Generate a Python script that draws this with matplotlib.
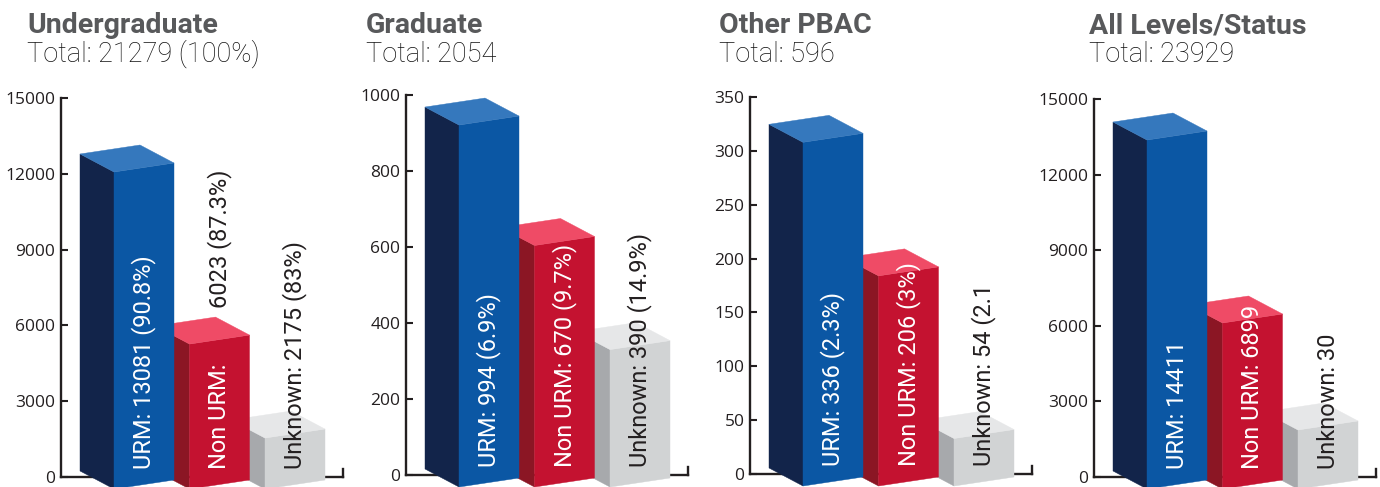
import matplotlib
matplotlib.use("Agg")
import matplotlib.pyplot as plt
from matplotlib.patches import Polygon

# ---------------- data ----------------
titles = ["Undergraduate", "Graduate", "Other PBAC", "All Levels/Status"]
subtitles = ["Total: 21279 (100%)", "Total: 2054", "Total: 596", "Total: 23929"]
categories = ["URM", "Non URM", "Unknown"]

# bar heights as drawn in the picture (top back corner of each block)
ug_heights = [13140, 6330, 2610]
grad_heights = [992, 675, 401]
pbac_heights = [333, 209, 58]
all_heights = [14444, 7183, 2937]

# label texts
ug_labels = ["URM: 13081 (90.8%)", "Non URM:", "Unknown: 2175 (83%)"]
ug_extra = [None, "6023 (87.3%)", None]
grad_labels = ["URM: 994 (6.9%)", "Non URM: 670 (9.7%)", "Unknown: 390 (14.9%)"]
pbac_labels = ["URM: 336 (2.3%)", "Non URM: 206 (3%)", "Unknown: 54 (2.1"]
all_labels = ["URM: 14411", "Non URM: 6899", "Unknown: 30"]
no_extra = [None, None, None]

ug_ticks = [0, 3000, 6000, 9000, 12000, 15000]
grad_ticks = [0, 200, 400, 600, 800, 1000]
pbac_ticks = [0, 50, 100, 150, 200, 250, 300, 350]
all_ticks = [0, 3000, 6000, 9000, 12000, 15000]

# ---------------- style ----------------
W, H = 1380, 487
spine_x = [61, 406, 750, 1094]
zero_px = [477, 475, 474, 477]
top_px = [98, 95, 97, 99]
title_x = [27, 366, 719, 1089]

face_colors = [
    ("#12244a", "#0b57a4", "#3578bd"),   # side, front, top
    ("#8b1624", "#c41230", "#ef4b66"),
    ("#a7a9ac", "#d1d3d4", "#e6e7e8"),
]
label_colors = ["white", "white", "#231f20"]
ink = "#231f20"

fig = plt.figure(figsize=(W / 100, H / 100), dpi=100)

heights_all = [ug_heights, grad_heights, pbac_heights, all_heights]
labels_all = [ug_labels, grad_labels, pbac_labels, all_labels]
extra_all = [ug_extra, no_extra, no_extra, no_extra]
ticks_all = [ug_ticks, grad_ticks, pbac_ticks, all_ticks]

AX_W = 300  # axes width in pixels

for p in range(4):
    ticks = ticks_all[p]
    ymax = ticks[-1]
    z, t = zero_px[p], top_px[p]
    ppu = (z - t) / ymax
    ymin = -(H - z) / ppu

    ax = fig.add_axes([spine_x[p] / W, 0, AX_W / W, (H - t) / H])
    ax.set_xlim(0, AX_W)
    ax.set_ylim(ymin, ymax)
    ax.patch.set_visible(False)

    def dy(px):
        return px / ppu

    for s in ["top", "right"]:
        ax.spines[s].set_visible(False)
    for s in ["left", "bottom"]:
        ax.spines[s].set_linewidth(1.7)
        ax.spines[s].set_color(ink)
        ax.spines[s].set_capstyle("projecting")
    ax.spines["left"].set_bounds(0, ymax)
    ax.spines["bottom"].set_position(("data", 0))
    ax.spines["bottom"].set_bounds(0, 282)
    ax.plot([282, 282], [0, dy(8)], color=ink, lw=1.7,
            solid_capstyle="projecting", clip_on=False, zorder=2.5)

    ax.set_xticks([])
    ax.set_yticks(ticks)
    ax.set_yticklabels([str(v) for v in ticks])
    ax.tick_params(axis="y", direction="in", length=5, width=1.5,
                   color=ink, pad=4, labelsize=12.5, labelcolor=ink)
    for lab in ax.get_yticklabels():
        lab.set_family("Open Sans")

    # 3D blocks
    hs = heights_all[p]
    for i in reversed(range(len(categories))):
        h = hs[i]
        x0 = 53 + 75.5 * i
        flt = (x0, h - dy(27))
        frt = (x0 + 60, h - dy(18))
        blt = (x0 - 34, h - dy(9))
        brt = (x0 + 26, h)
        flb = (x0, -dy(12))
        frb = (x0 + 60, -dy(3))
        blb = (x0 - 34, dy(6))
        side_c, front_c, top_c = face_colors[i]
        zb = 3 + (len(categories) - i)
        ax.add_patch(Polygon([flt, blt, blb, flb], closed=True, fc=side_c,
                             ec=side_c, lw=0.3, zorder=zb, clip_on=False))
        ax.add_patch(Polygon([flt, frt, frb, flb], closed=True, fc=front_c,
                             ec=front_c, lw=0.3, zorder=zb, clip_on=False))
        ax.add_patch(Polygon([flt, frt, brt, blt], closed=True, fc=top_c,
                             ec=top_c, lw=0.3, zorder=zb, clip_on=False))

        ax.text(x0 + 30, dy(8), labels_all[p][i], rotation=90,
                rotation_mode="anchor", ha="left", va="center",
                color=label_colors[i], fontsize=17, family="Roboto",
                zorder=20)
        ex = extra_all[p][i]
        if ex:
            ax.text(x0 + 30, h + dy(9), ex, rotation=90,
                    rotation_mode="anchor", ha="left", va="center",
                    color=ink, fontsize=17, family="Roboto", zorder=20)

    fig.text(title_x[p] / W, 1 - 33 / H, titles[p], family="Roboto",
             fontweight="bold", fontsize=20.5, color="#58595b", va="baseline")
    fig.text(title_x[p] / W, 1 - 62 / H, subtitles[p], family="Roboto",
             fontweight="light", fontsize=19.5, color="#111111", va="baseline")

fig.savefig("out.png", dpi=100)
